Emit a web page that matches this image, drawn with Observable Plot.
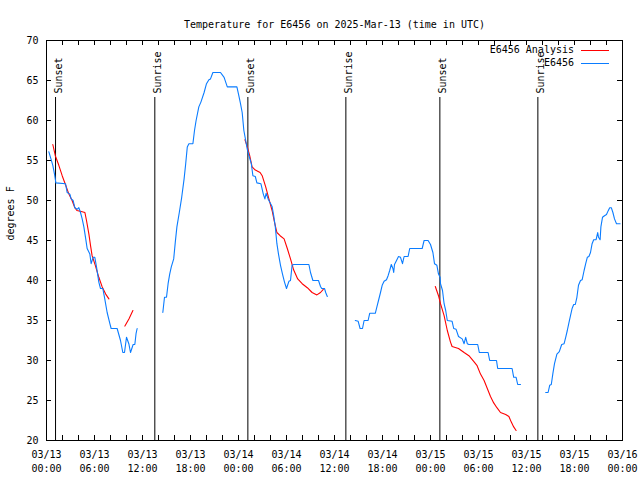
<!DOCTYPE html>
<html>
<head>
<meta charset="utf-8">
<script src="https://cdn.jsdelivr.net/npm/d3@7"></script>
<script src="https://cdn.jsdelivr.net/npm/@observablehq/plot@0.6"></script>
<style>
  html, body { margin: 0; padding: 0; background: white; }
</style>
</head>
<body>
<div id="chart"></div>
<script>
// ---- Data (hours since 2025-03-13 00:00 UTC; null = gap in record) ----
const titleText = "Temperature for E6456 on 2025-Mar-13 (time in UTC)";
const yLabel = "degrees F";
const seriesNames = ["E6456 Analysis", "E6456"];
const seriesColors = ["#ff0000", "#0a7cff"];

const obsHours = [
  0.29, 0.5, 0.79, 1.0, 1.17, 2.375, 2.58, 2.92, 3.08, 3.33, 3.54, 3.83, 4.04, 4.25, 4.46, 4.67, 4.875,
  5.08, 5.42, 5.58, 5.83, 6.04, 6.25, 6.54, 6.75, 7.04, 7.25, 7.58, 7.92, 8.08, 8.83, 9.25, 9.54, 9.75,
  10.0, 10.29, 10.5, 10.83, 11.04, 11.2, 11.33, null,
  14.54, 14.75, 15.0, 15.2, 15.4, 15.6, 15.9, 16.1, 16.3, 16.6, 16.9, 17.2, 17.4, 17.6, 17.8, 18.3, 18.5,
  18.7, 19.04, 19.3, 19.7, 20.0, 20.3, 20.5, 20.8, 21.75, 22.2, 22.6, 23.8, 24.0, 24.25, 24.46, 24.67,
  24.9, 25.08, 25.3, 25.6, 25.8, 26.1, 26.3, 26.8, 27.1, 27.3, 27.45, 27.7, 27.9, 28.2, 28.4, 28.6, 28.8,
  29.0, 29.25, 29.5, 29.75, 30.0, 30.3, 30.5, 30.7, 30.9, 32.8, 33.0, 33.3, 34.0, 34.25, 34.4, 34.75,
  34.9, 35.1, null,
  38.6, 38.96, 39.2, 39.5, 39.7, 40.2, 40.4, 41.1, 41.3, 41.5, 41.75, 41.96, 42.2, 42.5, 42.7, 42.9,
  43.1, 43.3, 43.4, 43.5, 43.8, 44.0, 44.25, 44.5, 44.7, 45.2, 45.4, 46.96, 47.2, 47.7, 48.0, 48.3, 48.5,
  48.8, 49.0, 49.2, 49.25, 49.5, 49.7, 49.9, 50.1, 50.7, 50.9, 51.2, 51.5, 51.96, 52.2, 52.4, 52.6, 52.8,
  53.9, 54.1, 55.2, 55.4, 56.25, 56.4, 58.2, 58.4, 58.7, 58.9, 59.25, null,
  62.4, 62.7, 62.9, 63.1, 63.3, 63.5, 63.8, 64.1, 64.4, 64.7, 64.9, 65.1, 65.3, 65.5, 65.7, 65.9, 66.1,
  66.3, 66.5, 66.75, 66.96, 67.2, 67.4, 67.6, 67.8, 68.0, 68.2, 68.4, 68.7, 68.9, 69.0, 69.2, 69.3, 69.5,
  69.75, 70.0, 70.2, 70.4, 70.6, 70.8, 71.0, 71.25, 71.7
];
const obsTemps = [
  56.1, 55.4, 54.4, 53.3, 52.2, 52.1, 51.0, 50.8, 50.2, 50.0, 49.1, 48.9, 49.1, 48.5, 47.7, 46.7, 45.4,
  44.0, 43.3, 42.1, 42.9, 42.9, 41.7, 39.8, 39.0, 39.0, 37.9, 36.0, 34.6, 34.0, 34.0, 32.5, 31.0, 31.0,
  32.9, 32.1, 31.0, 32.0, 32.0, 33.4, 34.0, null,
  36.0, 37.9, 37.9, 39.6, 40.8, 41.7, 42.7, 44.8, 46.7, 48.5, 50.4, 52.7, 54.6, 56.7, 57.1, 57.1, 58.75,
  60.0, 61.7, 62.3, 63.5, 64.6, 65.1, 65.2, 66.0, 66.0, 65.4, 64.2, 64.2, 63.3, 62.1, 61.0, 58.75,
  57.5, 56.5, 55.6, 54.6, 53.1, 53.0, 52.2, 52.1, 50.8, 50.2, 50.9, 50.2, 49.8, 49.25, 48.1, 46.7, 44.6,
  43.3, 41.9, 40.8, 39.8, 39.0, 39.9, 40.0, 41.9, 42.0, 42.0, 41.0, 40.0, 40.0, 39.25, 39.0, 39.0,
  38.5, 38.0, null,
  35.0, 34.9, 34.0, 34.0, 35.0, 35.0, 35.9, 35.9, 36.7, 37.5, 38.5, 39.4, 39.9, 40.1, 40.6, 41.25,
  42.0, 41.5, 41.0, 42.0, 42.6, 43.0, 42.9, 42.1, 43.0, 43.0, 44.0, 44.0, 45.0, 45.0, 44.5, 43.5, 42.1,
  41.9, 40.8, 40.4, 39.6, 38.75, 37.1, 36.25, 35.0, 34.9, 34.0, 33.9, 33.0, 32.7, 32.1, 32.9, 32.1, 32.0,
  32.0, 31.0, 31.0, 30.0, 30.0, 29.0, 29.0, 27.9, 27.9, 27.0, 27.0, null,
  26.0, 26.0, 26.9, 27.0, 28.4, 29.6, 30.8, 31.1, 32.0, 32.1, 32.9, 33.75, 34.7, 35.6, 36.5, 37.0, 37.0,
  37.9, 39.4, 40.0, 40.1, 41.25, 42.1, 42.9, 43.0, 43.5, 44.6, 45.1, 45.1, 46.0, 45.4, 45.1, 46.7, 47.9,
  48.1, 48.25, 48.7, 49.1, 49.1, 48.5, 47.7, 47.1, 47.1
];

const anaHours = [
  0.79, 1.1, 1.54, 1.96, 2.4, 2.8, 3.2, 3.54, 3.8, 4.46, 4.8, 5.0, 5.3, 5.5, 5.7, 6.1, 6.54, 6.96, 7.4, 7.8, null,
  9.8, 10.3, 10.8, null,
  24.8, 25.1, 25.4, 25.7, 26.1, 26.7, 26.96, 27.4, 27.8, 28.2, 28.5, 28.8, 29.2, 29.7, 30.1, 30.5, 30.9,
  31.4, 31.96, 32.6, 33.2, 33.8, 34.25, 34.6, null,
  48.6, 49.0, 49.25, 49.7, 50.1, 50.5, 50.7, 51.5, 52.2, 52.8, 53.4, 53.8, 54.25, 54.7, 55.1, 55.5, 55.9,
  56.3, 56.75, 57.4, 57.8, 58.1, 58.4, 58.7
];
const anaTemps = [
  57.0, 55.6, 54.4, 53.1, 51.9, 50.8, 50.0, 49.1, 48.75, 48.6, 48.5, 47.5, 45.8, 44.4, 43.1, 41.9, 40.4, 39.2, 38.3, 37.7, null,
  34.3, 35.2, 36.25, null,
  57.6, 56.7, 55.6, 54.2, 53.8, 53.5, 53.1, 51.7, 50.2, 48.75, 47.3, 46.0, 45.6, 45.2, 44.0, 42.7, 41.3,
  40.2, 39.6, 39.1, 38.5, 38.2, 38.5, 38.9, null,
  39.25, 38.1, 37.1, 35.6, 33.75, 32.3, 31.75, 31.5, 31.0, 30.6, 29.9, 29.4, 28.3, 27.5, 26.5, 25.5, 24.7,
  24.1, 23.5, 23.25, 23.0, 22.3, 21.7, 21.25
];

const sunHours = [1.13, 13.54, 25.17, 37.42, 49.17, 61.42];
const sunLabels = ["Sunset", "Sunrise", "Sunset", "Sunrise", "Sunset", "Sunrise"];

const yTicks = [20, 25, 30, 35, 40, 45, 50, 55, 60, 65, 70];
const xStart = Date.UTC(2025, 2, 13);
const xEnd = Date.UTC(2025, 2, 16);

// ---- Build tables ----
const toDate = h => (h == null ? null : new Date(xStart + h * 3600e3));
const obs = obsHours.map((h, i) => ({time: toDate(h), temp: obsTemps[i]}));
const ana = anaHours.map((h, i) => ({time: toDate(h), temp: anaTemps[i]}));
const sun = sunHours.map((h, i) => ({time: toDate(h), label: sunLabels[i]}));
const xMinorTicks = d3.utcHour.every(2).range(new Date(xStart), new Date(xEnd + 1));
const xLabelTicks = d3.utcHour.every(6).range(new Date(xStart), new Date(xEnd + 1));
const fmtTop = d3.utcFormat("%m/%d");
const fmtBot = d3.utcFormat("%H:%M");

const FONT = "'DejaVu Sans Mono', monospace";
const TICK = 5;

// inward ticks on all four sides, positioned through Plot's own scales
function ticksMark(index, scales, values, dims) {
  const g = d3.create("svg:g")
    .attr("stroke", "black")
    .attr("stroke-width", 1)
    .attr("shape-rendering", "crispEdges");
  const top = dims.marginTop, bot = dims.height - dims.marginBottom;
  const left = dims.marginLeft, right = dims.width - dims.marginRight;
  for (const t of xMinorTicks) {
    const x = Math.round(scales.x(t)) + 0.5;
    g.append("line").attr("x1", x).attr("x2", x).attr("y1", top).attr("y2", top + TICK);
    g.append("line").attr("x1", x).attr("x2", x).attr("y1", bot).attr("y2", bot - TICK);
  }
  for (const v of yTicks) {
    const y = Math.round(scales.y(v)) + 0.5;
    g.append("line").attr("x1", left).attr("x2", left + TICK).attr("y1", y).attr("y2", y);
    g.append("line").attr("x1", right).attr("x2", right - TICK).attr("y1", y).attr("y2", y);
  }
  return g.node();
}

function legendMark(index, scales, values, dims) {
  const g = d3.create("svg:g")
    .attr("font-family", FONT)
    .attr("font-size", 10);
  const xr = dims.width - dims.marginRight;
  seriesNames.forEach((name, i) => {
    const y = dims.marginTop + 9.5 + i * 13.5;
    g.append("text")
      .attr("x", xr - 48).attr("y", y)
      .attr("dy", "0.32em")
      .attr("text-anchor", "end")
      .attr("fill", "black")
      .text(name);
    g.append("line")
      .attr("x1", xr - 41).attr("x2", xr - 13)
      .attr("y1", Math.round(y) + 0.5).attr("y2", Math.round(y) + 0.5)
      .attr("stroke", seriesColors[i])
      .attr("stroke-width", 1);
  });
  return g.node();
}

const chart = Plot.plot({
  width: 640,
  height: 480,
  marginLeft: 46,
  marginRight: 18,
  marginTop: 40,
  marginBottom: 40,
  style: {fontFamily: FONT, fontSize: "10px", background: "white", color: "black"},
  x: {type: "utc", domain: [new Date(xStart), new Date(xEnd)]},
  y: {domain: [20, 70]},
  marks: [
    ticksMark,
    Plot.frame({stroke: "black"}),
    // tick labels
    Plot.axisX({anchor: "bottom", ticks: xLabelTicks, tickSize: 0, tickPadding: 8, lineHeight: 1.4,
      tickFormat: d => fmtTop(d) + "\n" + fmtBot(d), label: null}),
    Plot.axisY({anchor: "left", ticks: yTicks, tickSize: 0, tickPadding: 8, label: null}),
    // sunrise / sunset
    Plot.ruleX(sun, {x: "time", stroke: "black", strokeWidth: 1, insetTop: 57}),
    Plot.text(sun, {x: "time", text: "label", frameAnchor: "top", rotate: -90, textAnchor: "start", dy: 53, dx: -1}),
    // series
    Plot.line(ana, {x: "time", y: "temp", stroke: seriesColors[0], strokeWidth: 1.1}),
    Plot.line(obs, {x: "time", y: "temp", stroke: seriesColors[1], strokeWidth: 1.1}),
    // title and y label
    Plot.text([titleText], {frameAnchor: "top", dy: -20}),
    Plot.text([yLabel], {frameAnchor: "left", dx: -36, rotate: -90}),
    legendMark
  ]
});

document.getElementById("chart").appendChild(chart);
</script>
</body>
</html>
